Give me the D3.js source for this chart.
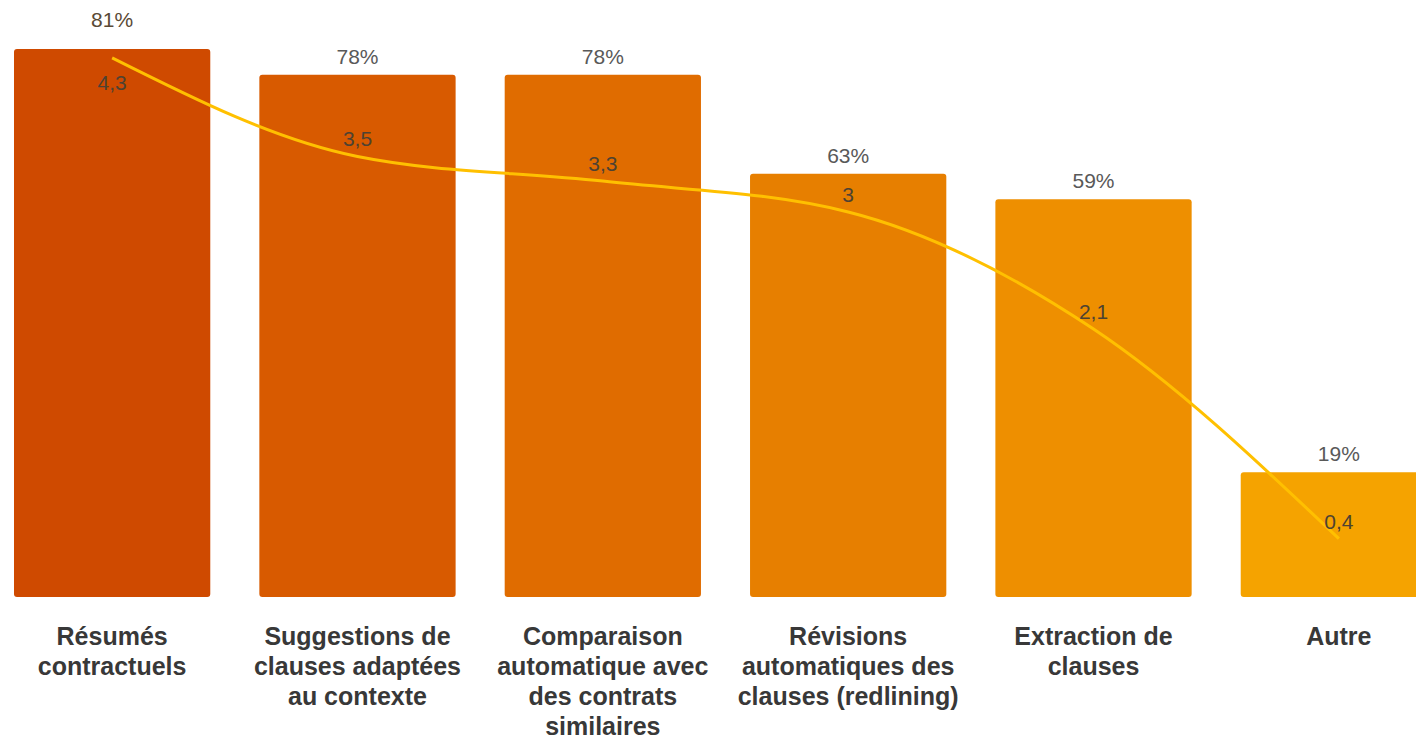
<!DOCTYPE html>
<html>
<head>
<meta charset="utf-8">
<script src="https://cdn.jsdelivr.net/npm/d3@7"></script>
<style>
  html, body { margin: 0; padding: 0; background: #fff; overflow: hidden; }
  svg { display: block; font-family: "Liberation Sans", Arial, sans-serif; }
</style>
</head>
<body>
<div id="chart"></div>
<script>
// categories (tick labels, \n = line break)
var categories = [
    "Résumés\ncontractuels",
    "Suggestions de\nclauses adaptées\nau contexte",
    "Comparaison\nautomatique avec\ndes contrats\nsimilaires",
    "Révisions\nautomatiques des\nclauses (redlining)",
    "Extraction de\nclauses",
    "Autre"
]
// share of respondents (%), bars
var pct_values = [81.3, 77.5, 77.5, 62.8, 59.0, 18.5]
// average score, line
var score_values = [4.3, 3.5, 3.3, 3.05, 2.1, 0.4]
var score_labels = ["4,3", "3,5", "3,3", "3", "2,1", "0,4"]
var bar_colors = ["#cf4a00", "#d85a00", "#e06c00", "#e77f00", "#ee8f00", "#f5a300"]

var width = 1416
var height = 739
var baseline = 597

const svg = d3.select("#chart")
    .append("svg")
    .attr("width", width)
    .attr("height", height)

var x = d3.scaleBand()
    .domain(d3.range(categories.length))
    .range([14, 1437])
    .paddingInner(0.2)
    .paddingOuter(0)

var y = d3.scaleLinear()
    .domain([0, 90])
    .range([baseline, baseline - 90 * 6.74])

// secondary scale for the score line
var y2 = d3.scaleLinear()
    .domain([0, 4.4])
    .range([588, 588 - 4.4 * 123.3])

var cx = (i) => x(i) + x.bandwidth() / 2

// bars
svg.append("g")
    .selectAll("rect")
    .data(pct_values)
    .join("rect")
    .attr("x", (d, i) => x(i))
    .attr("y", (d) => y(d))
    .attr("width", x.bandwidth())
    .attr("height", (d) => baseline - y(d))
    .attr("rx", 3)
    .attr("fill", (d, i) => bar_colors[i])

// score line
var line = d3.line()
    .x((d, i) => cx(i))
    .y((d) => y2(d))
    .curve(d3.curveMonotoneX)

svg.append("path")
    .datum(score_values)
    .attr("fill", "none")
    .attr("stroke", "#ffc000")
    .attr("stroke-width", 3)
    .attr("d", line)

// percent labels (pushed up when the line point sits near the bar top)
svg.append("g")
    .selectAll("text")
    .data(pct_values)
    .join("text")
    .attr("x", (d, i) => cx(i))
    .attr("y", (d, i) => Math.min(y(d) - 11, y2(score_values[i]) - 31))
    .attr("text-anchor", "middle")
    .style("font-size", "21px")
    .attr("fill", (d, i) => (y2(score_values[i]) - 31 < y(d) - 11) ? "#5a4a36" : "#595959")
    .text((d) => Math.round(d) + "%")

// score labels (placed under the point when there is no room above)
svg.append("g")
    .selectAll("text")
    .data(score_values)
    .join("text")
    .attr("x", (d, i) => cx(i))
    .attr("y", (d, i) => {
        var py = y2(d)
        return (py - 25 < y(pct_values[i])) ? py + 32 : py - 10
    })
    .attr("text-anchor", "middle")
    .style("font-size", "21px")
    .attr("fill", "#4d4232")
    .text((d, i) => score_labels[i])

// category labels
var lab = svg.append("g")
    .selectAll("text")
    .data(categories)
    .join("text")
    .attr("text-anchor", "middle")
    .style("font-size", "25px")
    .style("font-weight", "bold")
    .attr("fill", "#383838")

lab.each(function (d, i) {
    d3.select(this).selectAll("tspan")
        .data(d.split("\n"))
        .join("tspan")
        .attr("x", cx(i))
        .attr("y", (t, j) => 645 + j * 30)
        .text((t) => t)
})
</script>
</body>
</html>
